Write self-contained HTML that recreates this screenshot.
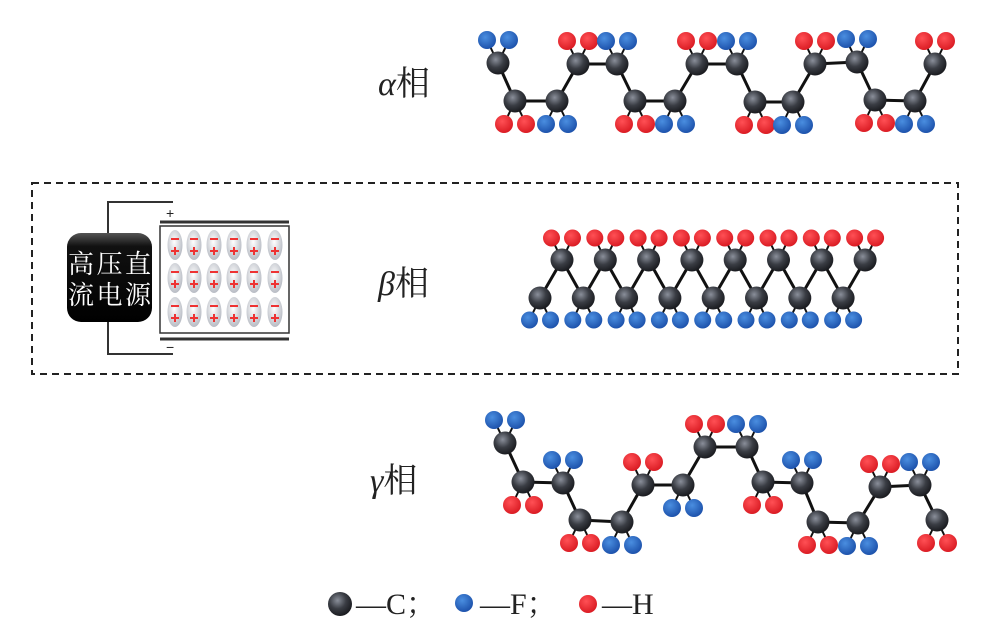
<!DOCTYPE html>
<html><head><meta charset="utf-8"><style>
html,body{margin:0;padding:0;background:#fff;width:992px;height:640px;overflow:hidden}
svg{display:block}
</style></head><body>
<svg id="s" width="992" height="640" viewBox="0 0 992 640" xmlns="http://www.w3.org/2000/svg">
<defs>
<radialGradient id="gc" cx="0.4" cy="0.35" r="0.7"><stop offset="0" stop-color="#8a8f9a"/><stop offset="0.5" stop-color="#3a3d44"/><stop offset="1" stop-color="#15161a"/></radialGradient>
<radialGradient id="gf" cx="0.4" cy="0.35" r="0.7"><stop offset="0" stop-color="#4a8ee0"/><stop offset="1" stop-color="#1a4ea8"/></radialGradient>
<radialGradient id="gh" cx="0.4" cy="0.35" r="0.7"><stop offset="0" stop-color="#ff5055"/><stop offset="1" stop-color="#d81820"/></radialGradient>
<radialGradient id="ge" cx="0.45" cy="0.4" r="0.6"><stop offset="0" stop-color="#ffffff"/><stop offset="1" stop-color="#b8bcc4"/></radialGradient>
<linearGradient id="gb" x1="0" y1="0" x2="0" y2="1"><stop offset="0" stop-color="#555"/><stop offset="0.15" stop-color="#111"/><stop offset="1" stop-color="#000"/></linearGradient>
</defs>
<rect x="32" y="183" width="926" height="191" fill="none" stroke="#222" stroke-width="2" stroke-dasharray="7,5"/>
<g font-family="'Liberation Serif','Noto Serif CJK SC',serif" font-size="34" fill="#222">
<text x="378" y="95"><tspan font-style="italic">α</tspan>相</text>
<text x="378" y="295"><tspan font-style="italic">β</tspan>相</text>
<text x="370" y="492"><tspan font-style="italic">γ</tspan>相</text>
</g>
<!-- capacitor -->
<g stroke="#333" stroke-width="2" fill="none">
<polyline points="173,202 108,202 108,235"/>
<polyline points="173,354 108,354 108,320"/>
<line x1="160" y1="222" x2="289" y2="222" stroke-width="3"/>
<line x1="160" y1="339" x2="289" y2="339" stroke-width="3"/>
<rect x="160" y="226" width="129" height="107" stroke-width="1.5"/>
</g>
<text x="166" y="218" font-family="'Liberation Sans',sans-serif" font-size="14" fill="#222">+</text>
<text x="166" y="352" font-family="'Liberation Sans',sans-serif" font-size="14" fill="#222">−</text>
<rect x="67" y="233" width="85" height="89" rx="14" fill="url(#gb)"/>
<g font-family="'Noto Serif CJK SC','Liberation Serif',serif" font-size="26" fill="#fff">
<text x="68" y="273" textLength="83">高压直</text>
<text x="68" y="304" textLength="83">流电源</text>
</g>
<g id="ell"></g>
<g id="mol"></g>
<!-- legend -->
<g font-family="'Liberation Serif','Noto Serif CJK SC',serif" font-size="30" fill="#222">
<circle cx="340" cy="604" r="12" fill="url(#gc)"/>
<text x="356" y="614">—C；</text>
<circle cx="464" cy="603" r="9" fill="url(#gf)"/>
<text x="480" y="614">—F；</text>
<circle cx="588" cy="604" r="9" fill="url(#gh)"/>
<text x="602" y="614">—H</text>
</g>
</svg>
<script>
var NS="http://www.w3.org/2000/svg";
function el(p,t,a){var e=document.createElementNS(NS,t);for(var k in a)e.setAttribute(k,a[k]);p.appendChild(e);return e;}
var E=document.getElementById("ell");
[175,194,214,234,254,275].forEach(function(x){[245,278,312].forEach(function(y){
el(E,"ellipse",{cx:x,cy:y,rx:7.5,ry:15,fill:"url(#ge)"});
el(E,"rect",{x:x-4,y:y-7,width:8,height:2,fill:"#e33"});
el(E,"rect",{x:x-4,y:y+5,width:8,height:2,fill:"#e33"});
el(E,"rect",{x:x-1,y:y+2,width:2,height:8,fill:"#e33"});
});});
var M=document.getElementById("mol");
var bonds=el(M,"g",{stroke:"#111","stroke-width":3});
var subs=el(M,"g",{});var cs=el(M,"g",{});
function chain(C,dx,dy,r){
for(var i=0;i<C.length-1;i++)el(bonds,"line",{x1:C[i][0],y1:C[i][1],x2:C[i+1][0],y2:C[i+1][1]});
C.forEach(function(c){
var s=c[3]=="t"?-1:1,x=c[0],y=c[1];
var g=c[2]=="F"?"url(#gf)":"url(#gh)";
[-dx,dx].forEach(function(o){
el(bonds,"line",{x1:x,y1:y,x2:x+o,y2:y+s*dy,"stroke-width":2});
el(subs,"circle",{cx:x+o,cy:y+s*dy,r:r,fill:g});});
el(cs,"circle",{cx:x,cy:y,r:11.5,fill:"url(#gc)"});
});}
chain([[498,63,"F","t"],[515,101,"H","b"],[557,101,"F","b"],[578,64,"H","t"],[617,64,"F","t"],[635,101,"H","b"],[675,101,"F","b"],[697,64,"H","t"],[737,64,"F","t"],[755,102,"H","b"],[793,102,"F","b"],[815,64,"H","t"],[857,62,"F","t"],[875,100,"H","b"],[915,101,"F","b"],[935,64,"H","t"]],11,23,9);
chain([[505,443,"F","t"],[523,482,"H","b"],[563,483,"F","t"],[580,520,"H","b"],[622,522,"F","b"],[643,485,"H","t"],[683,485,"F","b"],[705,447,"H","t"],[747,447,"F","t"],[763,482,"H","b"],[802,483,"F","t"],[818,522,"H","b"],[858,523,"F","b"],[880,487,"H","t"],[920,485,"F","t"],[937,520,"H","b"]],11,23,9);
var B=[];for(var k=0;k<8;k++){B.push([540+43.3*k,298,"F","b"]);B.push([562+43.3*k,260,"H","t"]);}
chain(B,10.5,22,8.5);
</script>
</body></html>
